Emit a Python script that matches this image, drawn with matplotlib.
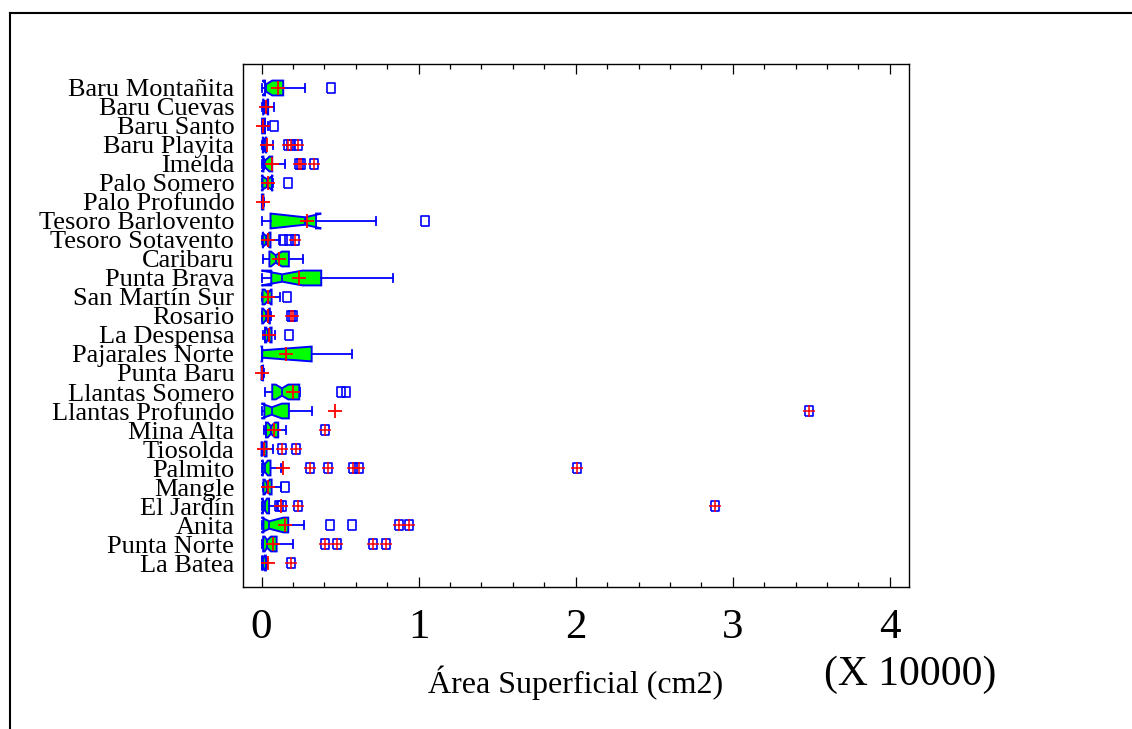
import numpy as np
import matplotlib
matplotlib.use("Agg")
import matplotlib.pyplot as plt
from matplotlib.lines import Line2D
from matplotlib.ticker import MultipleLocator

# Notched box-and-whisker plot of surface area per site (units of 10000 cm2),
# listed top to bottom as in the original chart.
sites = ["Baru Montañita", "Baru Cuevas", "Baru Santo", "Baru Playita", "Imelda",
         "Palo Somero", "Palo Profundo", "Tesoro Barlovento", "Tesoro Sotavento",
         "Caribaru", "Punta Brava", "San Martín Sur", "Rosario", "La Despensa",
         "Pajarales Norte", "Punta Baru", "Llantas Somero", "Llantas Profundo",
         "Mina Alta", "Tiosolda", "Palmito", "Mangle", "El Jardín", "Anita",
         "Punta Norte", "La Batea"]

whisker_low = [0.006, 0.004, 0.000, 0.004, 0.000, 0.004, 0.000, 0.006, 0.004,
               0.010, 0.006, 0.003, 0.000, 0.010, 0.000, 0.000, 0.025, 0.005,
               0.015, 0.000, 0.004, 0.010, 0.004, 0.005, 0.005, 0.000]
q1 = [0.022, 0.010, 0.004, 0.008, 0.012, 0.006, 0.002, 0.057, 0.008,
      0.050, 0.062, 0.006, 0.004, 0.022, 0.004, 0.000, 0.068, 0.018,
      0.028, 0.000, 0.008, 0.012, 0.008, 0.012, 0.010, 0.004]
notch_low = [0.006, 0.012, 0.006, 0.010, 0.000, -0.002, 0.003, 0.060, 0.005,
             0.060, 0.000, 0.020, 0.010, 0.030, 0.000, 0.000, 0.090, 0.000,
             0.040, 0.000, 0.000, 0.020, 0.000, 0.000, 0.020, 0.004]
median = [0.030, 0.025, 0.012, 0.018, 0.025, 0.036, 0.006, 0.277, 0.030,
          0.090, 0.132, 0.040, 0.030, 0.042, 0.006, 0.004, 0.130, 0.065,
          0.060, 0.010, 0.020, 0.036, 0.020, 0.050, 0.035, 0.010]
notch_high = [0.068, 0.038, 0.018, 0.026, 0.050, 0.074, 0.009, 0.380, 0.050,
              0.130, 0.260, 0.060, 0.050, 0.055, 0.319, 0.008, 0.170, 0.130,
              0.085, 0.020, 0.040, 0.052, 0.035, 0.140, 0.060, 0.020]
q3 = [0.138, 0.042, 0.022, 0.030, 0.068, 0.066, 0.012, 0.347, 0.057,
      0.174, 0.380, 0.064, 0.053, 0.064, 0.319, 0.010, 0.240, 0.174,
      0.106, 0.032, 0.057, 0.064, 0.048, 0.170, 0.096, 0.028]
whisker_high = [0.279, 0.080, 0.040, 0.073, 0.149, 0.070, 0.018, 0.728, 0.120,
                0.262, 0.834, 0.117, 0.062, 0.085, 0.578, 0.014, 0.245, 0.323,
                0.155, 0.074, 0.121, 0.125, 0.100, 0.272, 0.202, 0.034]
means = [0.102, 0.027, 0.012, 0.036, 0.064, 0.038, 0.008, 0.287, 0.038,
         0.113, 0.240, 0.040, 0.043, 0.049, 0.153, 0.006, 0.198, 0.468,
         0.079, 0.015, 0.138, 0.043, 0.125, 0.150, 0.075, 0.042]

# outside points (open squares) and far outside points (squares with a plus)
outliers = [[0.44], [], [0.081], [], [], [0.166], [], [1.042], [0.134, 0.177],
            [], [], [0.16], [], [0.172], [], [], [0.506, 0.538], [],
            [], [], [], [0.149], [0.113, 0.13], [0.436, 0.579], [], []]
far_outliers = [[], [], [], [0.17, 0.185, 0.232], [0.24, 0.252, 0.334], [], [], [],
                [0.215], [], [], [], [0.19, 0.2], [], [], [], [], [3.485],
                [0.404], [0.128, 0.217], [0.31, 0.42, 0.585, 0.62, 2.01], [],
                [0.23, 2.885], [0.878, 0.94], [0.404, 0.483, 0.709, 0.794], [0.19]]

BLUE = "#0000FF"
GREEN = "#00FF00"
RED = "#FF0000"
SERIF = "Liberation Serif"

n = len(sites)
positions = [n - i for i in range(n)]

stats = []
for i in range(n):
    stats.append({"whislo": whisker_low[i], "q1": q1[i], "cilo": notch_low[i],
                  "med": median[i], "cihi": notch_high[i], "q3": q3[i],
                  "whishi": whisker_high[i], "mean": means[i], "fliers": []})

fig = plt.figure(figsize=(11.32, 7.29), dpi=100)
ax = fig.add_axes([0.2144, 0.1952, 0.5883, 0.7166])

ax.bxp(stats, positions=positions, widths=0.78, orientation="horizontal",
       patch_artist=True, shownotches=True, showmeans=True, showfliers=False,
       boxprops=dict(facecolor=GREEN, edgecolor=BLUE, linewidth=1.4),
       whiskerprops=dict(color=BLUE, linewidth=1.3),
       capprops=dict(color=BLUE, linewidth=1.3),
       medianprops=dict(color=BLUE, linewidth=1.3),
       meanprops=dict(marker="+", markeredgecolor=RED, markersize=10,
                      markeredgewidth=1.3, linestyle="none", zorder=5))

rect = [(-0.7, -1), (0.7, -1), (0.7, 1), (-0.7, 1), (-0.7, -1)]
for i in range(n):
    pts = outliers[i] + far_outliers[i]
    if pts:
        ax.plot(pts, [positions[i]] * len(pts), linestyle="none", marker=rect,
                markersize=7.5, markerfacecolor="none", markeredgecolor=BLUE,
                markeredgewidth=1.2, zorder=4)
    if far_outliers[i]:
        ax.plot(far_outliers[i], [positions[i]] * len(far_outliers[i]),
                linestyle="none", marker="+", markersize=8,
                markeredgecolor=RED, markeredgewidth=1.1, zorder=5)

ax.set_xlim(-0.12, 4.12)
ax.set_ylim(-0.247, n + 1.247)
ax.set_yticks(positions)
ax.set_yticklabels(sites, fontfamily=SERIF, fontsize=19)
ax.tick_params(axis="y", length=0, pad=6)

ax.xaxis.set_major_locator(MultipleLocator(1))
ax.xaxis.set_minor_locator(MultipleLocator(0.2))
ax.set_xticks([0, 1, 2, 3, 4])
ax.set_xticklabels(["0", "1", "2", "3", "4"], fontfamily=SERIF, fontsize=31)
ax.tick_params(axis="x", which="major", direction="in", top=True, length=7,
               width=0.9, pad=16)
ax.tick_params(axis="x", which="minor", direction="in", top=True, length=3.5,
               width=0.9)
for spine in ax.spines.values():
    spine.set_linewidth(1.0)

ax.set_xlabel("Área Superficial (cm2)", fontfamily=SERIF, fontsize=23, labelpad=13)
fig.text(910 / 1132, 1 - 655 / 729, "(X 10000)", ha="center", va="top",
         fontfamily=SERIF, fontsize=30)

# outer frame of the original graphics window
fig.add_artist(Line2D([0.0088, 1.0], [0.9826, 0.9826], transform=fig.transFigure,
                      color="black", linewidth=1.5))
fig.add_artist(Line2D([0.0088, 0.0088], [0.0, 0.9826], transform=fig.transFigure,
                      color="black", linewidth=1.5))

fig.savefig("out.png", dpi=100, facecolor="white")
